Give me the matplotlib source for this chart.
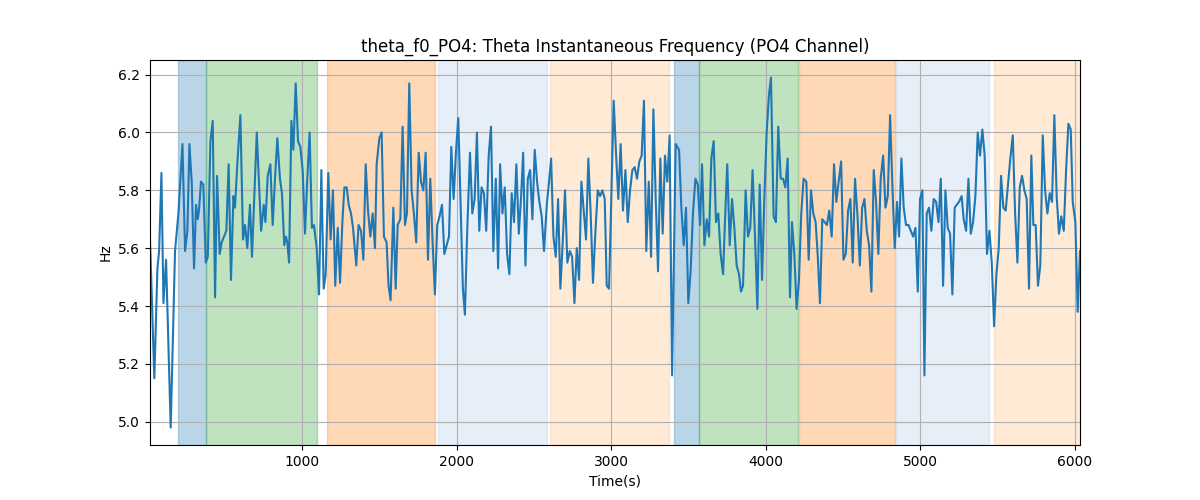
import numpy as np
import matplotlib.pyplot as plt

# theta instantaneous frequency
time_s = [16, 44, 64, 75, 90, 103, 120, 150, 178, 200, 226, 243, 258, 271, 286, 301,
          314, 325, 333, 346, 361, 377, 390, 407, 422, 437, 450, 467, 480, 510, 525, 540,
          556, 566, 581, 601, 618, 631, 646, 663, 676, 707, 735, 752,
          763, 778, 795, 810, 825, 840, 857, 870, 885, 896, 905, 916, 931, 944, 959, 974,
          989, 1004, 1019, 1034, 1049, 1064, 1077, 1095, 1110, 1125, 1140, 1153, 1170, 1185,
          1200, 1215, 1231, 1246, 1261, 1274, 1289, 1302, 1317, 1330, 1351, 1366, 1382, 1397,
          1412, 1427, 1442, 1457, 1472, 1483, 1500,
          1515, 1530, 1547, 1560, 1573, 1591, 1606, 1619, 1636, 1651, 1666, 1679, 1694, 1709,
          1724, 1739, 1755, 1770, 1785, 1800, 1815, 1830, 1845, 1860, 1875, 1890, 1906, 1921,
          1936, 1951, 1966, 1981, 1996, 2011, 2026, 2041, 2054, 2069, 2087, 2102, 2117, 2132,
          2147, 2162, 2177, 2192, 2208, 2223, 2238,
          2254, 2269, 2282, 2297, 2312, 2327, 2342, 2357, 2372, 2387, 2403, 2418, 2431, 2446,
          2461, 2476, 2491, 2506, 2521, 2536, 2551, 2566, 2584, 2597, 2612, 2627, 2642, 2657,
          2672, 2687, 2702, 2717, 2733, 2748, 2763, 2778, 2793, 2808, 2823, 2838, 2853, 2868,
          2883, 2899, 2914, 2929, 2944, 2959, 2972, 2987,
          3017, 3032, 3047, 3062, 3077, 3093, 3108, 3123, 3138, 3153, 3168, 3183, 3198, 3213,
          3228, 3244, 3259, 3274, 3289, 3304, 3319, 3334, 3349, 3364, 3379, 3395, 3418, 3440,
          3455, 3470, 3485, 3500, 3515, 3530, 3546, 3561, 3576, 3589, 3604, 3619, 3634, 3649,
          3664, 3679, 3694, 3709, 3725,
          3737, 3752, 3768, 3783, 3798, 3813, 3828, 3841, 3854, 3871, 3886, 3901, 3916, 3931,
          3947, 3962, 3977, 3992, 4007, 4022, 4035, 4052, 4067, 4082, 4098, 4113, 4128, 4143,
          4158, 4171, 4186, 4201, 4216, 4231, 4246, 4264, 4279, 4294, 4309, 4324, 4337, 4352,
          4367, 4382, 4397, 4412, 4428, 4443, 4458, 4473,
          4489, 4504, 4519, 4534, 4549, 4564, 4579, 4595, 4610, 4625, 4640, 4655, 4670, 4685,
          4700, 4715, 4730, 4745, 4761, 4776, 4791, 4806, 4821, 4836, 4851, 4864, 4879, 4894,
          4909, 4925, 4940, 4955, 4970, 4985, 5000, 5015, 5028, 5043, 5058, 5073, 5088, 5104,
          5119, 5134, 5149, 5164, 5179, 5194, 5209, 5224,
          5237, 5252, 5269, 5282, 5298, 5313, 5328, 5343, 5358, 5373, 5388, 5403, 5418, 5433,
          5449, 5464, 5479, 5494, 5509, 5524, 5539, 5554, 5569, 5584, 5600, 5615, 5630, 5645,
          5660, 5675, 5690, 5705, 5720, 5733, 5748, 5763, 5778, 5794, 5809, 5824, 5839, 5854,
          5869, 5884, 5899, 5914, 5930, 5945, 5960, 5975, 5988, 6005, 6020, 6035]

freq_hz = [5.63, 5.15, 5.53, 5.59, 5.86, 5.41, 5.56, 4.98, 5.59, 5.72, 5.96, 5.59, 5.66, 5.96, 5.83, 5.53,
           5.75, 5.70, 5.73, 5.83, 5.82, 5.55, 5.57, 5.97, 6.04, 5.43, 5.85, 5.58, 5.62, 5.66, 5.89, 5.49,
           5.78, 5.74, 5.89, 6.06, 5.63, 5.68, 5.60, 5.75, 5.57, 6.00, 5.66, 5.75,
           5.69, 5.85, 5.89, 5.68, 5.84, 5.98, 5.84, 5.79, 5.61, 5.64, 5.62, 5.55, 6.04, 5.94, 6.17, 5.97,
           5.95, 5.87, 5.65, 5.84, 6.00, 5.67, 5.68, 5.60, 5.44, 5.87, 5.46, 5.51, 5.86, 5.63,
           5.80, 5.47, 5.67, 5.48, 5.69, 5.81, 5.81, 5.75, 5.72, 5.67, 5.54, 5.68, 5.66, 5.56,
           5.89, 5.73, 5.64, 5.72, 5.60, 5.89, 5.98,
           6.00, 5.64, 5.62, 5.47, 5.42, 5.74, 5.46, 5.68, 5.70, 6.02, 5.68, 5.72, 6.17, 5.80,
           5.72, 5.62, 5.93, 5.83, 5.80, 5.93, 5.56, 5.84, 5.62, 5.44, 5.68, 5.71, 5.75, 5.58,
           5.61, 5.64, 5.95, 5.77, 5.93, 6.05, 5.76, 5.46, 5.37, 5.66, 5.93, 5.72, 5.77, 6.00,
           5.66, 5.81, 5.79, 5.66, 5.92, 6.02, 5.59,
           5.84, 5.53, 5.89, 5.72, 5.81, 5.58, 5.51, 5.79, 5.69, 5.89, 5.65, 5.78, 5.93, 5.54,
           5.84, 5.87, 5.70, 5.94, 5.83, 5.76, 5.71, 5.59, 5.75, 5.82, 5.91, 5.64, 5.57, 5.77,
           5.46, 5.62, 5.80, 5.55, 5.59, 5.57, 5.41, 5.60, 5.49, 5.83, 5.73, 5.63, 5.91, 5.72,
           5.48, 5.66, 5.80, 5.78, 5.80, 5.77, 5.47, 5.46,
           6.11, 5.93, 5.77, 5.96, 5.73, 5.87, 5.69, 5.80, 5.87, 5.88, 5.84, 5.90, 5.92, 6.11,
           5.59, 5.83, 5.57, 6.08, 5.77, 5.52, 5.91, 5.65, 5.92, 5.83, 5.99, 5.16, 5.96, 5.94,
           5.74, 5.61, 5.74, 5.41, 5.52, 5.72, 5.84, 5.82, 5.68, 5.89, 5.61, 5.70, 5.64, 5.91,
           5.97, 5.69, 5.72, 5.58, 5.51,
           5.69, 5.89, 5.61, 5.77, 5.67, 5.54, 5.51, 5.45, 5.47, 5.80, 5.64, 5.67, 5.87, 5.65,
           5.39, 5.82, 5.49, 5.77, 6.00, 6.13, 6.19, 5.71, 5.69, 6.02, 5.84, 5.84, 5.81, 5.91,
           5.43, 5.69, 5.58, 5.39, 5.49, 5.72, 5.84, 5.83, 5.56, 5.80, 5.72, 5.69, 5.58, 5.41,
           5.70, 5.69, 5.68, 5.73, 5.64, 5.89, 5.76, 5.83,
           5.90, 5.56, 5.58, 5.73, 5.77, 5.55, 5.84, 5.71, 5.54, 5.74, 5.77, 5.66, 5.61, 5.45,
           5.87, 5.76, 5.58, 5.84, 5.92, 5.74, 5.78, 6.06, 5.81, 5.60, 5.76, 5.64, 5.91, 5.74,
           5.68, 5.68, 5.66, 5.64, 5.67, 5.45, 5.77, 5.80, 5.16, 5.72, 5.74, 5.66, 5.77, 5.76,
           5.69, 5.84, 5.47, 5.80, 5.67, 5.65, 5.44, 5.74,
           5.75, 5.76, 5.78, 5.70, 5.66, 5.84, 5.65, 5.69, 5.78, 6.00, 5.92, 6.01, 5.92, 5.58,
           5.66, 5.55, 5.33, 5.51, 5.60, 5.85, 5.74, 5.73, 5.82, 5.91, 5.99, 5.72, 5.55, 5.81,
           5.85, 5.80, 5.77, 5.46, 5.92, 5.68, 5.68, 5.47, 5.54, 5.99, 5.80, 5.72, 5.79, 5.76,
           6.06, 5.78, 5.65, 5.71, 5.66, 5.87, 6.03, 6.01, 5.76, 5.69, 5.38, 5.59]

# shaded phases: (start, end, colour)
span_start = [197, 378, 1160, 1880, 2605, 3408, 3570, 4217, 4845, 5479]
span_end = [378, 1095, 1861, 2588, 3375, 3570, 4210, 4838, 5446, 6100]
span_color = ["#1f77b4", "#2ca02c", "#ff7f0e", "#aec7e8", "#ffbb78",
              "#1f77b4", "#2ca02c", "#ff7f0e", "#aec7e8", "#ffbb78"]

fig, ax = plt.subplots(figsize=(12, 5), dpi=100)

for s, e, c in zip(span_start, span_end, span_color):
    ax.axvspan(s, e, color=c, alpha=0.3)

ax.plot(time_s, freq_hz, color="#1f77b4")
ax.set_xlim(time_s[0], time_s[-1])
ax.set_title("theta_f0_PO4: Theta Instantaneous Frequency (PO4 Channel)")
ax.set_xlabel("Time(s)")
ax.set_ylabel("Hz")
ax.grid(True)

plt.savefig("out.png")
